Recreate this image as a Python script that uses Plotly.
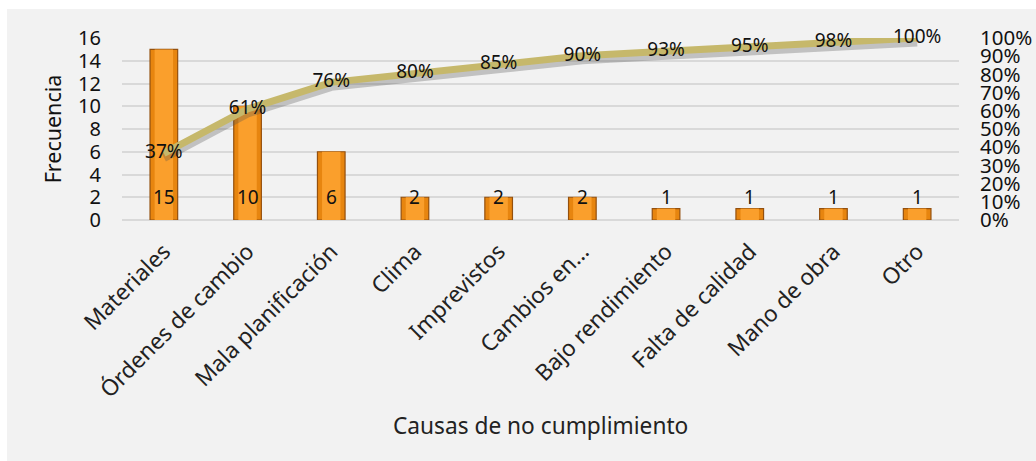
import plotly.graph_objects as go

# Causes of non-compliance and their frequency
causas = ["Materiales", "Órdenes de cambio", "Mala planificación", "Clima",
          "Imprevistos", "Cambios en…", "Bajo rendimiento", "Falta de calidad",
          "Mano de obra", "Otro"]
frecuencia = [15, 10, 6, 2, 2, 2, 1, 1, 1, 1]
freq_ticks = [0, 2, 4, 6, 8, 10, 12, 14, 16]
pct_ticks = [i / 10 for i in range(11)]

total = sum(frecuencia)
acumulado = []
running = 0
for f in frecuencia:
    running += f
    acumulado.append(running / total)
pct_labels = [f"{round(p * 100)}%" for p in acumulado]

FONT = "Noto Sans"
W, H = 1036, 461
L, R, T, B = 122, 77, 38, 241
plot_w, plot_h = W - L - R, H - T - B

fig = go.Figure()

# Frequency bars: darker outer body with a lighter core for a bevelled look
fig.add_trace(go.Bar(
    x=causas, y=frecuencia, width=0.33,
    marker=dict(color="#e7850f", line=dict(color="#94500e", width=1.2)),
    yaxis="y", hoverinfo="skip", showlegend=False,
))
fig.add_trace(go.Bar(
    x=causas, y=frecuencia, width=0.22,
    marker=dict(color="#fa9f2c", line=dict(width=0)),
    yaxis="y", hoverinfo="skip", showlegend=False,
))

# Soft shadow under the cumulative line (slightly shifted axis)
fig.add_trace(go.Scatter(
    x=causas, y=acumulado, mode="lines",
    line=dict(color="rgba(80,80,80,0.30)", width=9),
    yaxis="y2", hoverinfo="skip", showlegend=False,
))

# Cumulative percentage line with labels
fig.add_trace(go.Scatter(
    x=causas, y=acumulado, mode="lines+text",
    line=dict(color="#c6b86b", width=7),
    text=pct_labels, textposition="middle center",
    textfont=dict(family=FONT, size=19, color="#111111"),
    cliponaxis=False,
    yaxis="y3", hoverinfo="skip", showlegend=False,
))

# Frequency value labels near the base of each bar
annotations = []
for c, f in zip(causas, frecuencia):
    annotations.append(dict(
        x=c, y=2, xref="x", yref="y", text=str(f), showarrow=False,
        yanchor="middle", font=dict(family=FONT, size=19, color="#111111"),
    ))

# X-axis title
annotations.append(dict(
    x=0.5, y=(T + plot_h - 425) / plot_h, xref="paper", yref="paper",
    text="Causas de no cumplimiento", showarrow=False,
    xanchor="center", yanchor="middle",
    font=dict(family=FONT, size=22.7, color="#222222"),
))

# Grey chart panel
shapes = [dict(
    type="rect", xref="paper", yref="paper", layer="below",
    x0=(7 - L) / plot_w, x1=(W + 5 - L) / plot_w,
    y0=(T + plot_h - H - 5) / plot_h, y1=(T + plot_h - 9) / plot_h,
    fillcolor="#f2f2f2", line=dict(width=0),
)]

fig.update_layout(
    width=W, height=H,
    margin=dict(l=L, r=R, t=T, b=B, autoexpand=False),
    paper_bgcolor="white", plot_bgcolor="rgba(0,0,0,0)",
    font=dict(family=FONT, color="#111111"),
    barmode="overlay",
    xaxis=dict(
        tickangle=-45, tickfont=dict(family=FONT, size=22.5, color="#222222"),
        showgrid=False, showline=False, zeroline=False, ticks="",
        ticklabelstandoff=13, automargin=False,
    ),
    yaxis=dict(
        range=[0, 16], tickvals=freq_ticks, tickfont=dict(size=20),
        showgrid=True, gridcolor="#d9d9d9", gridwidth=2,
        zeroline=True, zerolinecolor="#d9d9d9", zerolinewidth=2,
        showline=False, ticks="", ticklabelstandoff=20, automargin=False,
        title=dict(text="Frecuencia", font=dict(size=21.5), standoff=10),
    ),
    yaxis2=dict(
        range=[0.022, 1.022], overlaying="y", visible=False,
    ),
    yaxis3=dict(
        range=[0, 1], tickvals=pct_ticks, tickformat=".0%", overlaying="y",
        side="right", tickfont=dict(size=20.5), showgrid=False,
        zeroline=False, showline=False, ticks="", ticklabelstandoff=20,
        automargin=False,
    ),
    annotations=annotations,
    shapes=shapes,
)

fig.write_html("out.html")
